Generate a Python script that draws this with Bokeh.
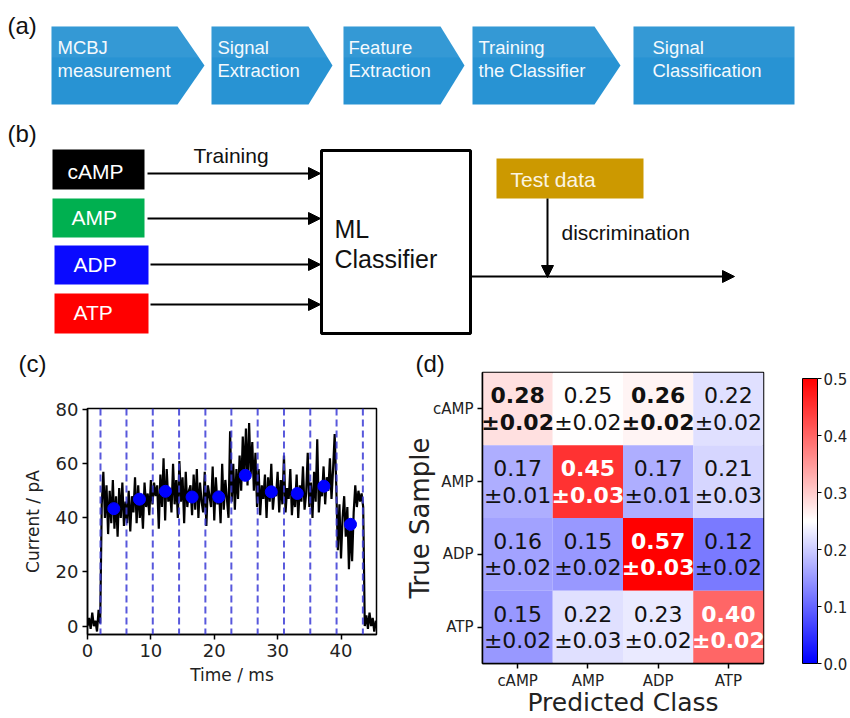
from bokeh.plotting import figure
from bokeh.layouts import column, row
from bokeh.models import (Range1d, ColumnDataSource, Arrow, NormalHead, Span, Title,
                          LinearColorMapper, ColorBar, FixedTicker, PrintfTickFormatter,
                          FactorRange)
from bokeh.core.properties import value, field
from bokeh.embed import file_html
from bokeh.resources import INLINE

# ------------------------------------------------------------------ data
flow_line1 = ["MCBJ", "Signal", "Feature", "Training", "Signal"]
flow_line2 = ["measurement", "Extraction", "Extraction", "the Classifier", "Classification"]

train_classes = ["cAMP", "AMP", "ADP", "ATP"]
train_colors = ["#000000", "#00b050", "#0a0aff", "#ff0000"]

time_step_ms = 0.25
current_pA = [
    0, 3, -1, 5, 0, 2, -2, 6, 1,
    45, 57, 40, 52, 34, 50, 38, 54, 36, 48, 33, 51, 40, 53, 37, 46,
    38, 50, 35, 48, 42, 55, 38, 52, 40, 47, 36, 53, 44, 49, 41, 54,
    45, 53, 48, 52, 36, 56, 44, 62, 39, 58, 46, 51, 42, 60, 45, 54,
    40, 61, 46, 55, 38, 57, 44, 50, 52, 41, 56, 43, 58, 40, 53, 46,
    42, 57, 37, 52, 48, 44, 59, 39, 55, 45, 50, 38, 60, 43, 54, 47,
    40, 72, 46, 60, 43, 58, 47, 63, 50, 70, 55, 73, 52, 75, 56, 68,
    50, 64, 44, 58, 41, 52, 47, 56, 40, 55, 46, 60, 43, 50, 48, 57,
    42, 54, 45, 63, 42, 51, 47, 58, 41, 50, 44, 56, 40, 52, 46, 59,
    43, 49, 64, 44, 53, 40, 57, 46, 69, 42, 51, 48, 59, 45, 55, 50,
    62, 47, 58, 71, 52,
    28, 45, 25, 40, 48, 33, 44, 21, 38, 24, 42, 52, 44, 50, 46, 49, 44,
    0, 4, -1, 5, 0, 3, -2, 2,
]
window_edges_ms = [2.05, 6.15, 10.3, 14.45, 18.6, 22.7, 26.85, 31.0, 35.15, 39.3, 43.45]
window_mean_ms = [4.15, 8.2, 12.3, 16.5, 20.7, 24.9, 29.0, 33.1, 37.3, 41.5]
window_mean_pA = [43.4, 46.9, 49.8, 47.7, 47.7, 55.7, 49.6, 49.0, 51.7, 37.6]
time_ticks = [0, 10, 20, 30, 40]
current_ticks = [0, 20, 40, 60, 80]

classes = ["cAMP", "AMP", "ADP", "ATP"]
conf_mean = [[0.28, 0.25, 0.26, 0.22],
             [0.17, 0.45, 0.17, 0.21],
             [0.16, 0.15, 0.57, 0.12],
             [0.15, 0.22, 0.23, 0.40]]
conf_err = [[0.02, 0.02, 0.02, 0.02],
            [0.01, 0.03, 0.01, 0.03],
            [0.02, 0.02, 0.03, 0.02],
            [0.02, 0.03, 0.02, 0.02]]
conf_bold = [[1, 0, 1, 0],
             [0, 1, 0, 0],
             [0, 0, 1, 0],
             [0, 0, 0, 1]]
cbar_ticks = [0.0, 0.1, 0.2, 0.3, 0.4, 0.5]

ARIAL = "Liberation Sans"
DJV = "DejaVu Sans"

# ------------------------------------------------------------------ (a) + (b) diagram
ft = figure(width=850, height=340, x_range=Range1d(0, 850), y_range=Range1d(340, 0),
            x_axis_type=None, y_axis_type=None, output_backend="svg",
            toolbar_location=None, min_border=0)
ft.grid.visible = False
ft.outline_line_color = None

step_left = [51, 211, 343, 472, 633]
step_body_right = [177, 308, 440, 594, 794]
step_tip = [204, 332, 464, 620, 794]
step_top, step_mid, step_bot = 26, 65, 104
xs = [[l, b, t, b, l] for l, b, t in zip(step_left, step_body_right, step_tip)]
ys = [[step_top, step_top, step_mid, step_bot, step_bot] for _ in step_left]
ft.patches(xs, ys, fill_color="#2893d3", line_color=None)
ys_hi = [[step_top, step_top, step_mid - 8, step_mid - 8] for _ in step_left]
xs_hi = [[l, b, t - 8 * (t - b) / 39.0, l] for l, b, t in zip(step_left, step_body_right, step_tip)]
ft.patches(xs_hi, ys_hi, fill_color="white", fill_alpha=0.06, line_color=None)
step_text_x = [57, 217, 348, 478, 652]
ft.text(step_text_x, [47] * 5, text=flow_line1, text_font=value(ARIAL), text_font_size="18.5px",
        text_color="#f4f9fd", text_baseline="middle", text_align="left")
ft.text(step_text_x, [70] * 5, text=flow_line2, text_font=value(ARIAL), text_font_size="18.5px",
        text_color="#f4f9fd", text_baseline="middle", text_align="left")

in_left = [52, 52, 54, 54]
in_right = [144, 144, 148, 148]
in_top = [149, 198, 245, 293]
in_bot = [189, 237, 284, 333]
ft.quad(left=in_left, right=in_right, top=in_top, bottom=in_bot, fill_color=train_colors, line_color=None)
ft.text([67, 71, 73, 73], [171, 217, 264, 312], text=train_classes, text_font=value(ARIAL),
        text_font_size="21px", text_color="white", text_baseline="middle")

arrow_y = [173, 218, 264, 304]
for sx, ay in zip([147, 147, 150, 150], arrow_y):
    ft.add_layout(Arrow(x_start=sx, y_start=ay, x_end=320, y_end=ay, line_width=2,
                        end=NormalHead(size=12, fill_color="black", line_color="black")))
ft.text([193], [155], text=["Training"], text_font=value(ARIAL), text_font_size="21px",
        text_color="#111111", text_baseline="middle")

ft.quad(left=[321], right=[470], top=[150], bottom=[333], fill_color=None,
        line_color="black", line_width=3)
ft.text([334, 334], [228, 258], text=["ML", "Classifier"], text_font=value(ARIAL),
        text_font_size="25px", text_color="#111111", text_baseline="middle")

ft.quad(left=[496], right=[643], top=[158], bottom=[198], fill_color="#cc9900", line_color=None)
ft.text([510], [179], text=["Test data"], text_font=value(ARIAL), text_font_size="21px",
        text_color="#fbf4e2", text_baseline="middle")
ft.add_layout(Arrow(x_start=547, y_start=198, x_end=547, y_end=277, line_width=2,
                    end=NormalHead(size=12, fill_color="black", line_color="black")))
ft.add_layout(Arrow(x_start=470, y_start=276, x_end=734, y_end=276, line_width=2,
                    end=NormalHead(size=12, fill_color="black", line_color="black")))
ft.text([561], [232], text=["discrimination"], text_font=value(ARIAL), text_font_size="21px",
        text_color="#111111", text_baseline="middle")

ft.text([7, 7], [25, 133], text=["(a)", "(b)"], text_font=value(ARIAL), text_font_size="24px",
        text_color="#111111", text_baseline="middle")

# ------------------------------------------------------------------ (c) trace
time_ms = [i * time_step_ms for i in range(len(current_pA))]
fc = figure(width=400, height=378, x_range=Range1d(0, 45.6), y_range=Range1d(-3.1, 80.4),
            output_backend="svg", toolbar_location=None,
            min_border_left=87, min_border_right=24, min_border_top=68, min_border_bottom=84)
fc.grid.visible = False
fc.outline_line_color = "black"
fc.outline_line_width = 1.5
fc.line(time_ms, current_pA, line_color="black", line_width=2.2)
for t in window_edges_ms:
    fc.add_layout(Span(location=t, dimension="height", line_color="#3b3bd6", line_alpha=0.85,
                       line_dash="7 4", line_width=2))
dots = fc.scatter(window_mean_ms, window_mean_pA, size=12, fill_color="#0000ff", line_color="#0000ff")
dots.level = "overlay"
fc.xaxis.ticker = FixedTicker(ticks=time_ticks)
fc.yaxis.ticker = FixedTicker(ticks=current_ticks)
fc.xaxis.axis_label = "Time / ms"
fc.yaxis.axis_label = "Current / pA"
for ax in fc.axis:
    ax.major_tick_in = 0
    ax.major_tick_out = 5
    ax.minor_tick_line_color = None
    ax.axis_line_color = "black"
    ax.axis_line_width = 1.5
    ax.major_tick_line_width = 1.5
    ax.major_label_text_font = DJV
    ax.major_label_text_font_size = "18px"
    ax.major_label_text_color = "#222222"
    ax.axis_label_text_font = DJV
    ax.axis_label_text_font_size = "17px"
    ax.axis_label_text_font_style = "normal"
    ax.axis_label_text_color = "#222222"
    ax.major_label_standoff = 4
fc.yaxis.axis_label_standoff = 10
fc.xaxis.axis_label_standoff = 5
fc.add_layout(Title(text="(c)\n\u00a0", align="left", offset=-69, standoff=10, text_font=ARIAL,
                    text_font_size="24px", text_font_style="normal", text_color="#111111"), "above")

# ------------------------------------------------------------------ (d) confusion matrix
bwr = []
for i in range(256):
    n = i / 255.0
    if n < 0.5:
        c = int(round(255 * 2 * n))
        bwr.append("#%02x%02x%02x" % (c, c, 255))
    else:
        c = int(round(255 * 2 * (1 - n)))
        bwr.append("#%02x%02x%02x" % (255, c, c))
mapper = LinearColorMapper(palette=bwr, low=0.0, high=0.5)

rows = dict(pred=[], true=[], val=[], l1=[], l2=[], style=[], tcol=[])
for r, tc in enumerate(classes):
    for c, pc in enumerate(classes):
        v = conf_mean[r][c]
        rows["pred"].append(pc)
        rows["true"].append(tc)
        rows["val"].append(v)
        rows["l1"].append("%.2f" % v)
        rows["l2"].append("\u00b1%.2f" % conf_err[r][c])
        rows["style"].append("bold" if conf_bold[r][c] else "normal")
        rows["tcol"].append("white" if (conf_bold[r][c] and v >= 0.35) else "#111111")
src = ColumnDataSource(rows)

fd = figure(width=450, height=378, x_range=FactorRange(*classes), y_range=FactorRange(*classes[::-1]),
            output_backend="svg", toolbar_location=None,
            min_border_left=82, min_border_right=77, min_border_top=32, min_border_bottom=55)
fd.grid.visible = False
fd.outline_line_color = "black"
fd.outline_line_width = 1.5
fd.rect(x="pred", y="true", width=1, height=1, source=src,
        fill_color={"field": "val", "transform": mapper}, line_color=None)
for col, off in (("l1", -13.5), ("l2", 13.5)):
    fd.text(x="pred", y="true", text=col, source=src, y_offset=off, text_align="center",
            text_baseline="middle", text_font=value(DJV), text_font_size="22px",
            text_font_style=field("style"), text_color=field("tcol"))
fd.yaxis.axis_label = "True Sample"
for ax in fd.axis:
    ax.major_tick_in = 0
    ax.major_tick_out = 5
    ax.axis_line_color = "black"
    ax.axis_line_width = 1.5
    ax.major_tick_line_width = 1.5
    ax.major_label_text_font = DJV
    ax.major_label_text_font_size = "15px"
    ax.major_label_text_color = "#222222"
    ax.axis_label_text_font = DJV
    ax.axis_label_text_font_size = "26px"
    ax.axis_label_text_font_style = "normal"
    ax.axis_label_text_color = "#222222"
    ax.major_label_standoff = 4
fd.xaxis.major_label_standoff = 3
fd.yaxis.axis_label_standoff = -5
fd.add_layout(Title(text="Predicted Class", align="center", standoff=-14, text_font=DJV,
                    text_font_size="25px", text_font_style="normal", text_color="#222222"), "below")

cb = ColorBar(color_mapper=mapper, ticker=FixedTicker(ticks=cbar_ticks),
              formatter=PrintfTickFormatter(format="%.1f"), width=15, height=285,
              location=(39, 0), margin=0, padding=0, major_tick_in=0, major_tick_out=4,
              major_tick_line_color="black", bar_line_color="black",
              major_label_text_font=DJV, major_label_text_font_size="15px",
              major_label_text_color="#222222", label_standoff=2,
              background_fill_alpha=0, border_line_color=None)
fd.add_layout(cb, "right")
fd.add_layout(Title(text="(d)", align="left", offset=-67, standoff=-8, text_font=ARIAL,
                    text_font_size="24px", text_font_style="normal", text_color="#111111"), "above")

layout = column(ft, row(column(fc), column(fd)))
open("out.html", "w").write(file_html(layout, INLINE))
